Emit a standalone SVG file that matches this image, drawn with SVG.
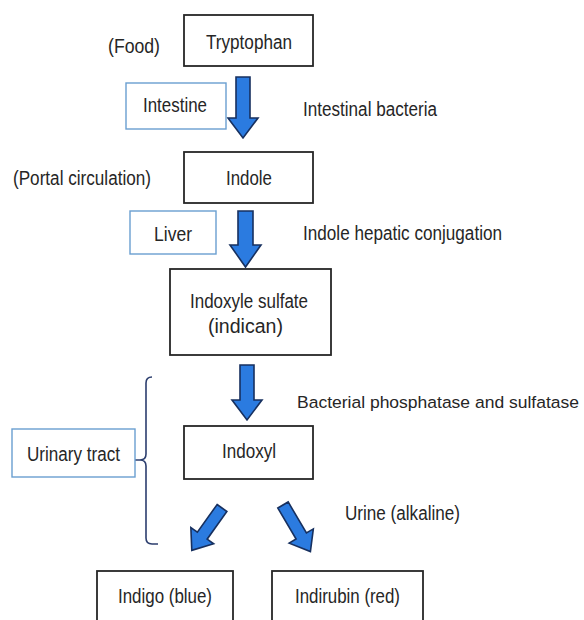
<svg xmlns="http://www.w3.org/2000/svg" width="584" height="620" viewBox="0 0 584 620">
<defs>
<style>
.box{fill:#fff;stroke:#262626;stroke-width:1.8}
.lbox{fill:#fff;stroke:#6a9fd0;stroke-width:1.4}
.t{font-family:"Liberation Sans",Arial,sans-serif;font-size:20px;fill:#262626}
.arr{fill:#2b7be0;stroke:#17305f;stroke-width:1.6;stroke-linejoin:miter}
.br{fill:none;stroke:#2c3e6e;stroke-width:1.6}
</style>
</defs>
<rect width="584" height="620" fill="#fff"/>

<g id="connectors">
<path class="arr" d="M236,77 H250 V118 H258 L243,138 L228,118 H236 Z"/>
<path class="arr" d="M238,211 H253 V245 H261 L245.5,267 L230,245 H238 Z"/>
<path class="arr" d="M240,365 H254 V400 H262 L247,420 L232,400 H240 Z"/>
<path class="arr" transform="translate(222,508) rotate(35.5)" d="M-6,0 H6 V34 H14 L0,52 L-14,34 H-6 Z"/>
<path class="arr" transform="translate(283,505) rotate(-30.5)" d="M-6,0 H6 V36 H14 L0,54 L-14,36 H-6 Z"/>
<path class="br" d="M152,377 Q146,377 146,383 V454 Q146,460 140,460 H134 M140,460 Q146,460 146,466 V538 Q146,544 152,544 H158"/>
</g>

<g id="food"><text class="t" x="108" y="53" textLength="52" lengthAdjust="spacingAndGlyphs">(Food)</text></g>
<g id="tryptophan">
<rect class="box" x="184" y="15" width="129" height="51"/>
<text class="t" x="206" y="49" textLength="86" lengthAdjust="spacingAndGlyphs">Tryptophan</text>
</g>
<g id="intestine">
<rect class="lbox" x="126" y="83" width="100" height="46"/>
<text class="t" x="143" y="112" textLength="64" lengthAdjust="spacingAndGlyphs">Intestine</text>
</g>
<g id="intestinal-bacteria"><text class="t" x="303" y="116" textLength="134" lengthAdjust="spacingAndGlyphs">Intestinal bacteria</text></g>
<g id="portal"><text class="t" x="13" y="185" textLength="138" lengthAdjust="spacingAndGlyphs">(Portal circulation)</text></g>
<g id="indole">
<rect class="box" x="184" y="152" width="129" height="51"/>
<text class="t" x="226" y="185" textLength="46" lengthAdjust="spacingAndGlyphs">Indole</text>
</g>
<g id="liver">
<rect class="lbox" x="130" y="211" width="86" height="43"/>
<text class="t" x="154" y="241" textLength="38" lengthAdjust="spacingAndGlyphs">Liver</text>
</g>
<g id="hepatic"><text class="t" x="303" y="240" textLength="199" lengthAdjust="spacingAndGlyphs">Indole hepatic conjugation</text></g>
<g id="indoxyle-sulfate">
<rect class="box" x="170" y="269" width="161" height="86"/>
<text class="t" x="190" y="308" textLength="118" lengthAdjust="spacingAndGlyphs">Indoxyle sulfate</text>
<text class="t" x="208" y="333" textLength="75" lengthAdjust="spacingAndGlyphs">(indican)</text>
</g>
<g id="phosphatase"><text class="t" x="297" y="408" style="font-size:17.4px" textLength="282" lengthAdjust="spacingAndGlyphs">Bacterial phosphatase and sulfatase</text></g>
<g id="urinary-tract">
<rect class="lbox" x="12" y="429" width="123" height="48"/>
<text class="t" x="27" y="461" textLength="93" lengthAdjust="spacingAndGlyphs">Urinary tract</text>
</g>
<g id="indoxyl">
<rect class="box" x="184" y="426" width="129" height="53"/>
<text class="t" x="222" y="458" textLength="54" lengthAdjust="spacingAndGlyphs">Indoxyl</text>
</g>
<g id="urine"><text class="t" x="345" y="520" textLength="115" lengthAdjust="spacingAndGlyphs">Urine (alkaline)</text></g>
<g id="indigo">
<rect class="box" x="97" y="571" width="136" height="60"/>
<text class="t" x="118" y="603" textLength="94" lengthAdjust="spacingAndGlyphs">Indigo (blue)</text>
</g>
<g id="indirubin">
<rect class="box" x="272" y="571" width="151" height="60"/>
<text class="t" x="295" y="603" textLength="105" lengthAdjust="spacingAndGlyphs">Indirubin (red)</text>
</g>
</svg>
